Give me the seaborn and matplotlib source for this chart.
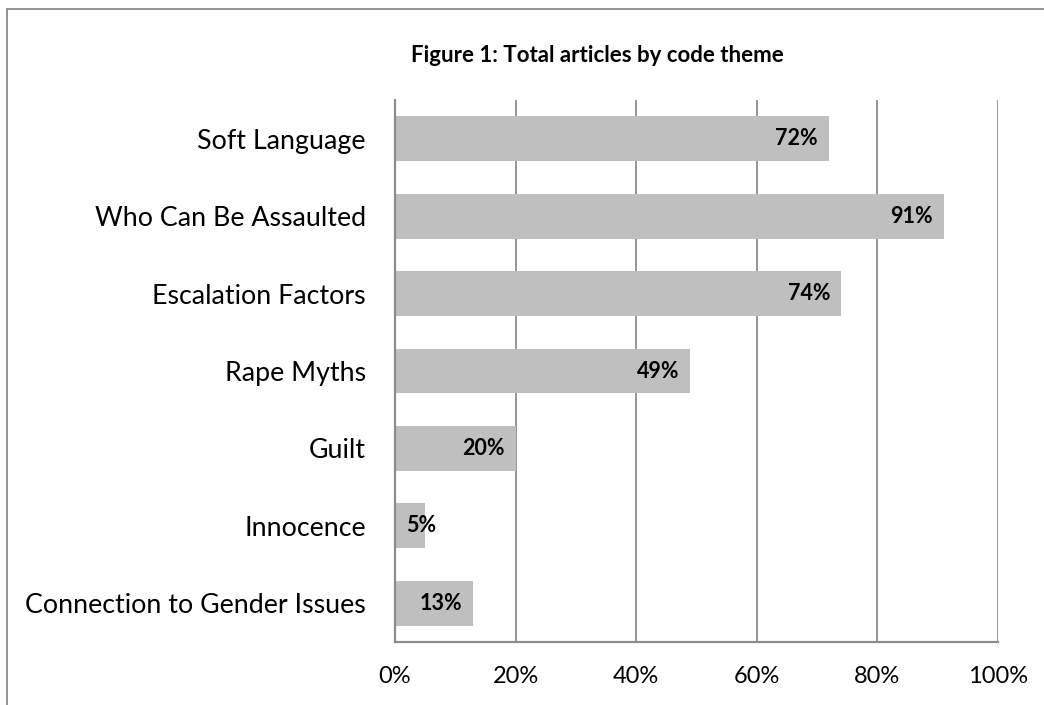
import matplotlib
matplotlib.use("Agg")
import matplotlib.pyplot as plt
import seaborn as sns
import pandas as pd
from matplotlib.lines import Line2D

categories = ["Soft Language", "Who Can Be Assaulted", "Escalation Factors",
              "Rape Myths", "Guilt", "Innocence", "Connection to Gender Issues"]
values = [72, 91, 74, 49, 20, 5, 13]
tick_values = [0, 20, 40, 60, 80, 100]
tick_labels = ["0%", "20%", "40%", "60%", "80%", "100%"]
title = "Figure 1: Total articles by code theme"

sns.set_theme(style="white")
plt.rcParams['font.family'] = ['Lato', 'DejaVu Sans']

df = pd.DataFrame({"category": categories, "value": values})

fig = plt.figure(figsize=(10.44, 7.05), dpi=100)
ax = fig.add_axes([395/1044, 1-642/705, (998-395)/1044, (642-100)/705])

sns.barplot(data=df, y="category", x="value", orient="h", color="#BFBFBF",
            saturation=1, width=0.58, ax=ax, zorder=3)
for p in ax.patches:
    p.set_edgecolor("none")

ax.set_xlim(0, 100)
ax.set_xticks(tick_values)
ax.set_xticklabels(tick_labels, fontsize=17, color="black")
ax.tick_params(axis="x", length=0, pad=17)
ax.tick_params(axis="y", length=0, pad=21, labelcolor="black")
for lbl in ax.get_yticklabels():
    lbl.set_fontsize(19.3)
ax.set_xlabel("")
ax.set_ylabel("")
ax.grid(False)
for x in tick_values[1:]:
    ax.axvline(x, color="#8C8C8C", lw=1.3, zorder=1)

for s in ["top", "right"]:
    ax.spines[s].set_visible(False)
for s in ["left", "bottom"]:
    ax.spines[s].set_color("#8C8C8C")
    ax.spines[s].set_linewidth(1.6)
ax.spines["left"].set_zorder(4)

for i, v in enumerate(values):
    if v >= 10:
        ax.annotate(f"{v}%", xy=(v, i), xytext=(-8, 0), textcoords="offset points",
                    ha="right", va="center", fontsize=15.5, fontweight="bold",
                    color="black", zorder=5)
    else:
        ax.annotate(f"{v}%", xy=(0, i), xytext=(8, 0), textcoords="offset points",
                    ha="left", va="center", fontsize=15.5, fontweight="bold",
                    color="black", zorder=5)

fig.text(597/1044, 1-55/705, title, ha="center", va="center",
         fontsize=16, fontweight="bold", color="black")

fig.add_artist(Line2D([7/1044, 1], [1-9/705, 1-9/705], color="#8C8C8C", lw=1.3))
fig.add_artist(Line2D([7/1044, 7/1044], [0, 1-9/705], color="#8C8C8C", lw=1.3))

fig.savefig("out.png", dpi=100)
